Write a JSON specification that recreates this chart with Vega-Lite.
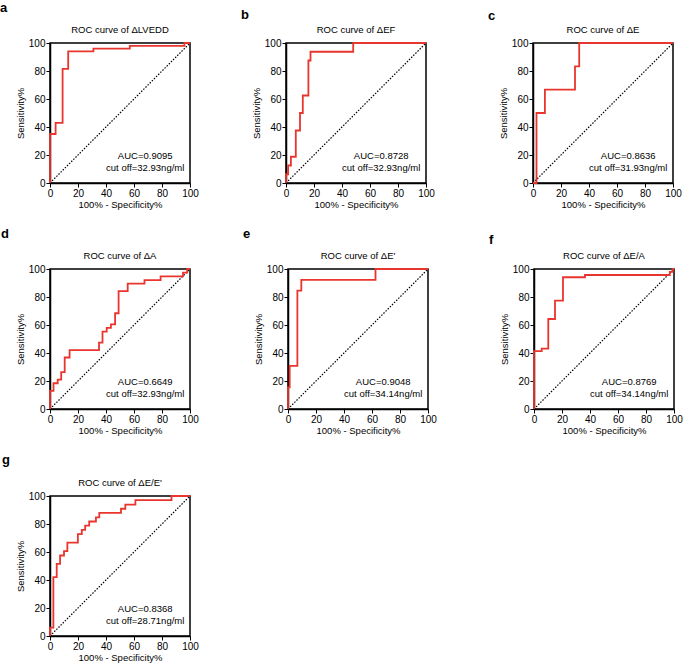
{
  "$schema": "https://vega.github.io/schema/vega-lite/v6.json",
  "padding": {"left": 0, "top": 1, "right": 0, "bottom": 0},
  "background": "white",
  "datasets": {
    "diag": [{"x": 0, "y": 0}, {"x": 100, "y": 100}],
    "ann": [
      {"p": "a", "auc": "AUC=0.9095", "cut": "cut off=32.93ng/ml"},
      {"p": "b", "auc": "AUC=0.8728", "cut": "cut off=32.93ng/ml"},
      {"p": "c", "auc": "AUC=0.8636", "cut": "cut off=31.93ng/ml"},
      {"p": "d", "auc": "AUC=0.6649", "cut": "cut off=32.93ng/ml"},
      {"p": "e", "auc": "AUC=0.9048", "cut": "cut off=34.14ng/ml"},
      {"p": "f", "auc": "AUC=0.8769", "cut": "cut off=34.14ng/ml"},
      {"p": "g", "auc": "AUC=0.8368", "cut": "cut off=28.71ng/ml"}
    ],
    "roc": [
      {"p":"a","i":0,"x":0,"y":0},{"p":"a","i":1,"x":0,"y":35},{"p":"a","i":2,"x":4,"y":35},{"p":"a","i":3,"x":4,"y":43},{"p":"a","i":4,"x":9,"y":43},{"p":"a","i":5,"x":9,"y":81.5},{"p":"a","i":6,"x":13,"y":81.5},{"p":"a","i":7,"x":13,"y":94},{"p":"a","i":8,"x":31,"y":94},{"p":"a","i":9,"x":31,"y":96},{"p":"a","i":10,"x":57,"y":96},{"p":"a","i":11,"x":57,"y":98},{"p":"a","i":12,"x":96,"y":98},{"p":"a","i":13,"x":96,"y":100},{"p":"a","i":14,"x":100,"y":100},

      {"p":"b","i":0,"x":0,"y":0},{"p":"b","i":1,"x":0,"y":6.25},{"p":"b","i":2,"x":1.5,"y":6.25},{"p":"b","i":3,"x":1.5,"y":12.5},{"p":"b","i":4,"x":3.5,"y":12.5},{"p":"b","i":5,"x":3.5,"y":18.75},{"p":"b","i":6,"x":7,"y":18.75},{"p":"b","i":7,"x":7,"y":37.5},{"p":"b","i":8,"x":10,"y":37.5},{"p":"b","i":9,"x":10,"y":50},{"p":"b","i":10,"x":12,"y":50},{"p":"b","i":11,"x":12,"y":62.5},{"p":"b","i":12,"x":16,"y":62.5},{"p":"b","i":13,"x":16,"y":87.5},{"p":"b","i":14,"x":17.5,"y":87.5},{"p":"b","i":15,"x":17.5,"y":93.75},{"p":"b","i":16,"x":48,"y":93.75},{"p":"b","i":17,"x":48,"y":100},{"p":"b","i":18,"x":100,"y":100},

      {"p":"c","i":0,"x":0,"y":0},{"p":"c","i":1,"x":2.5,"y":0},{"p":"c","i":2,"x":2.5,"y":50},{"p":"c","i":3,"x":8.5,"y":50},{"p":"c","i":4,"x":8.5,"y":66.7},{"p":"c","i":5,"x":30,"y":66.7},{"p":"c","i":6,"x":30,"y":83.3},{"p":"c","i":7,"x":33,"y":83.3},{"p":"c","i":8,"x":33,"y":100},{"p":"c","i":9,"x":100,"y":100},

      {"p":"d","i":0,"x":0,"y":0},{"p":"d","i":1,"x":0,"y":13},{"p":"d","i":2,"x":2.5,"y":13},{"p":"d","i":3,"x":2.5,"y":18.4},{"p":"d","i":4,"x":5.5,"y":18.4},{"p":"d","i":5,"x":5.5,"y":21},{"p":"d","i":6,"x":8,"y":21},{"p":"d","i":7,"x":8,"y":26.3},{"p":"d","i":8,"x":10.5,"y":26.3},{"p":"d","i":9,"x":10.5,"y":36.8},{"p":"d","i":10,"x":14,"y":36.8},{"p":"d","i":11,"x":14,"y":42.1},{"p":"d","i":12,"x":35,"y":42.1},{"p":"d","i":13,"x":35,"y":47.4},{"p":"d","i":14,"x":37.5,"y":47.4},{"p":"d","i":15,"x":37.5,"y":55.3},{"p":"d","i":16,"x":40.5,"y":55.3},{"p":"d","i":17,"x":40.5,"y":57.9},{"p":"d","i":18,"x":43.5,"y":57.9},{"p":"d","i":19,"x":43.5,"y":60.5},{"p":"d","i":20,"x":46.5,"y":60.5},{"p":"d","i":21,"x":46.5,"y":68.4},{"p":"d","i":22,"x":49,"y":68.4},{"p":"d","i":23,"x":49,"y":84.2},{"p":"d","i":24,"x":55.5,"y":84.2},{"p":"d","i":25,"x":55.5,"y":89.5},{"p":"d","i":26,"x":67.5,"y":89.5},{"p":"d","i":27,"x":67.5,"y":92.1},{"p":"d","i":28,"x":79,"y":92.1},{"p":"d","i":29,"x":79,"y":94.7},{"p":"d","i":30,"x":95,"y":94.7},{"p":"d","i":31,"x":95,"y":97.4},{"p":"d","i":32,"x":98,"y":97.4},{"p":"d","i":33,"x":98,"y":100},{"p":"d","i":34,"x":100,"y":100},

      {"p":"e","i":0,"x":0,"y":0},{"p":"e","i":1,"x":0,"y":15.4},{"p":"e","i":2,"x":1.2,"y":15.4},{"p":"e","i":3,"x":1.2,"y":30.8},{"p":"e","i":4,"x":6.7,"y":30.8},{"p":"e","i":5,"x":6.7,"y":84.6},{"p":"e","i":6,"x":9.5,"y":84.6},{"p":"e","i":7,"x":9.5,"y":92.3},{"p":"e","i":8,"x":62.5,"y":92.3},{"p":"e","i":9,"x":62.5,"y":100},{"p":"e","i":10,"x":100,"y":100},

      {"p":"f","i":0,"x":0,"y":0},{"p":"f","i":1,"x":0,"y":41.4},{"p":"f","i":2,"x":5.5,"y":41.4},{"p":"f","i":3,"x":5.5,"y":43.1},{"p":"f","i":4,"x":10.2,"y":43.1},{"p":"f","i":5,"x":10.2,"y":64.3},{"p":"f","i":6,"x":15,"y":64.3},{"p":"f","i":7,"x":15,"y":77.4},{"p":"f","i":8,"x":20.7,"y":77.4},{"p":"f","i":9,"x":20.7,"y":94.1},{"p":"f","i":10,"x":36.4,"y":94.1},{"p":"f","i":11,"x":36.4,"y":95.7},{"p":"f","i":12,"x":97,"y":95.7},{"p":"f","i":13,"x":97,"y":98},{"p":"f","i":14,"x":99,"y":98},{"p":"f","i":15,"x":99,"y":100},{"p":"f","i":16,"x":100,"y":100},

      {"p":"g","i":0,"x":0,"y":0},{"p":"g","i":1,"x":0,"y":6},{"p":"g","i":2,"x":2.4,"y":6},{"p":"g","i":3,"x":2.4,"y":42},{"p":"g","i":4,"x":4.8,"y":42},{"p":"g","i":5,"x":4.8,"y":51.5},{"p":"g","i":6,"x":7.2,"y":51.5},{"p":"g","i":7,"x":7.2,"y":57.5},{"p":"g","i":8,"x":10,"y":57.5},{"p":"g","i":9,"x":10,"y":60.6},{"p":"g","i":10,"x":12.4,"y":60.6},{"p":"g","i":11,"x":12.4,"y":66.7},{"p":"g","i":12,"x":19.9,"y":66.7},{"p":"g","i":13,"x":19.9,"y":72.7},{"p":"g","i":14,"x":22.7,"y":72.7},{"p":"g","i":15,"x":22.7,"y":75.8},{"p":"g","i":16,"x":25.1,"y":75.8},{"p":"g","i":17,"x":25.1,"y":78.8},{"p":"g","i":18,"x":28,"y":78.8},{"p":"g","i":19,"x":28,"y":81.8},{"p":"g","i":20,"x":32.8,"y":81.8},{"p":"g","i":21,"x":32.8,"y":84.8},{"p":"g","i":22,"x":35.2,"y":84.8},{"p":"g","i":23,"x":35.2,"y":87.9},{"p":"g","i":24,"x":50.7,"y":87.9},{"p":"g","i":25,"x":50.7,"y":90.9},{"p":"g","i":26,"x":53.8,"y":90.9},{"p":"g","i":27,"x":53.8,"y":93.9},{"p":"g","i":28,"x":61,"y":93.9},{"p":"g","i":29,"x":61,"y":97},{"p":"g","i":30,"x":86.8,"y":97},{"p":"g","i":31,"x":86.8,"y":100},{"p":"g","i":32,"x":100,"y":100}
    ]
  },
  "spacing": 17,
  "vconcat": [
    {"spacing": 41, "hconcat": [
      {"title": {"text": "a", "dx": -14.5, "dy": 0, "fontSize": 13, "fontWeight": "bold", "baseline": "alphabetic", "offset": -1}, "vconcat": [{"title": "ROC curve of ΔLVEDD", "width": 140, "height": 140,
        "layer": [
          {"data": {"name": "diag"}, "mark": {"type": "line", "color": "black", "strokeWidth": 1.2, "strokeDash": [1.5, 1.5]}, "encoding": {"x": {"field": "x", "type": "quantitative", "scale": {"domain": [0, 100]}, "axis": {"values": [0,20,40,60,80,100], "title": "100% - Specificity%", "titlePadding": 1, "labelOverlap": false}}, "y": {"field": "y", "type": "quantitative", "scale": {"domain": [0, 100]}, "axis": {"values": [0,20,40,60,80,100], "title": "Sensitivity%", "labelOverlap": false}}}},
          {"data": {"name": "roc"}, "transform": [{"filter": "datum.p === 'a'"}], "mark": {"type": "line", "color": "#e8352e", "strokeWidth": 1.8}, "encoding": {"x": {"field": "x", "type": "quantitative", "axis": {"values": [0,20,40,60,80,100], "title": "100% - Specificity%", "titlePadding": 1, "labelOverlap": false}}, "y": {"field": "y", "type": "quantitative", "axis": {"values": [0,20,40,60,80,100], "title": "Sensitivity%", "labelOverlap": false}}, "order": {"field": "i"}}},
          {"data": {"name": "ann"}, "transform": [{"filter": "datum.p === 'a'"}], "mark": {"type": "text", "fontSize": 9.5}, "encoding": {"x": {"datum": 68, "type": "quantitative", "axis": {"values": [0,20,40,60,80,100], "title": "100% - Specificity%", "titlePadding": 1, "labelOverlap": false}}, "y": {"datum": 19, "type": "quantitative", "axis": {"values": [0,20,40,60,80,100], "title": "Sensitivity%", "labelOverlap": false}}, "text": {"field": "auc"}}},
          {"data": {"name": "ann"}, "transform": [{"filter": "datum.p === 'a'"}], "mark": {"type": "text", "fontSize": 9.5}, "encoding": {"x": {"datum": 68, "type": "quantitative", "axis": {"values": [0,20,40,60,80,100], "title": "100% - Specificity%", "titlePadding": 1, "labelOverlap": false}}, "y": {"datum": 11, "type": "quantitative", "axis": {"values": [0,20,40,60,80,100], "title": "Sensitivity%", "labelOverlap": false}}, "text": {"field": "cut"}}}
        ]}]},
      {"spacing": 52, "hconcat": [
        {"title": {"text": "b", "dx": -9.5, "dy": 7, "fontSize": 13, "fontWeight": "bold", "baseline": "alphabetic", "offset": -1}, "vconcat": [{"title": "ROC curve of ΔEF", "width": 140, "height": 140,
          "layer": [
            {"data": {"name": "diag"}, "mark": {"type": "line", "color": "black", "strokeWidth": 1.2, "strokeDash": [1.5, 1.5]}, "encoding": {"x": {"field": "x", "type": "quantitative", "scale": {"domain": [0, 100]}, "axis": {"values": [0,20,40,60,80,100], "title": "100% - Specificity%", "titlePadding": 1, "labelOverlap": false}}, "y": {"field": "y", "type": "quantitative", "scale": {"domain": [0, 100]}, "axis": {"values": [0,20,40,60,80,100], "title": "Sensitivity%", "labelOverlap": false}}}},
            {"data": {"name": "roc"}, "transform": [{"filter": "datum.p === 'b'"}], "mark": {"type": "line", "color": "#e8352e", "strokeWidth": 1.8}, "encoding": {"x": {"field": "x", "type": "quantitative", "axis": {"values": [0,20,40,60,80,100], "title": "100% - Specificity%", "titlePadding": 1, "labelOverlap": false}}, "y": {"field": "y", "type": "quantitative", "axis": {"values": [0,20,40,60,80,100], "title": "Sensitivity%", "labelOverlap": false}}, "order": {"field": "i"}}},
            {"data": {"name": "ann"}, "transform": [{"filter": "datum.p === 'b'"}], "mark": {"type": "text", "fontSize": 9.5}, "encoding": {"x": {"datum": 68, "type": "quantitative", "axis": {"values": [0,20,40,60,80,100], "title": "100% - Specificity%", "titlePadding": 1, "labelOverlap": false}}, "y": {"datum": 19, "type": "quantitative", "axis": {"values": [0,20,40,60,80,100], "title": "Sensitivity%", "labelOverlap": false}}, "text": {"field": "auc"}}},
            {"data": {"name": "ann"}, "transform": [{"filter": "datum.p === 'b'"}], "mark": {"type": "text", "fontSize": 9.5}, "encoding": {"x": {"datum": 68, "type": "quantitative", "axis": {"values": [0,20,40,60,80,100], "title": "100% - Specificity%", "titlePadding": 1, "labelOverlap": false}}, "y": {"datum": 11, "type": "quantitative", "axis": {"values": [0,20,40,60,80,100], "title": "Sensitivity%", "labelOverlap": false}}, "text": {"field": "cut"}}}
          ]}]},
        {"title": {"text": "c", "dx": -9.5, "dy": 8, "fontSize": 13, "fontWeight": "bold", "baseline": "alphabetic", "offset": -1}, "vconcat": [{"title": "ROC curve of ΔE", "width": 140, "height": 140,
          "layer": [
            {"data": {"name": "diag"}, "mark": {"type": "line", "color": "black", "strokeWidth": 1.2, "strokeDash": [1.5, 1.5]}, "encoding": {"x": {"field": "x", "type": "quantitative", "scale": {"domain": [0, 100]}, "axis": {"values": [0,20,40,60,80,100], "title": "100% - Specificity%", "titlePadding": 1, "labelOverlap": false}}, "y": {"field": "y", "type": "quantitative", "scale": {"domain": [0, 100]}, "axis": {"values": [0,20,40,60,80,100], "title": "Sensitivity%", "labelOverlap": false}}}},
            {"data": {"name": "roc"}, "transform": [{"filter": "datum.p === 'c'"}], "mark": {"type": "line", "color": "#e8352e", "strokeWidth": 1.8}, "encoding": {"x": {"field": "x", "type": "quantitative", "axis": {"values": [0,20,40,60,80,100], "title": "100% - Specificity%", "titlePadding": 1, "labelOverlap": false}}, "y": {"field": "y", "type": "quantitative", "axis": {"values": [0,20,40,60,80,100], "title": "Sensitivity%", "labelOverlap": false}}, "order": {"field": "i"}}},
            {"data": {"name": "ann"}, "transform": [{"filter": "datum.p === 'c'"}], "mark": {"type": "text", "fontSize": 9.5}, "encoding": {"x": {"datum": 68, "type": "quantitative", "axis": {"values": [0,20,40,60,80,100], "title": "100% - Specificity%", "titlePadding": 1, "labelOverlap": false}}, "y": {"datum": 19, "type": "quantitative", "axis": {"values": [0,20,40,60,80,100], "title": "Sensitivity%", "labelOverlap": false}}, "text": {"field": "auc"}}},
            {"data": {"name": "ann"}, "transform": [{"filter": "datum.p === 'c'"}], "mark": {"type": "text", "fontSize": 9.5}, "encoding": {"x": {"datum": 68, "type": "quantitative", "axis": {"values": [0,20,40,60,80,100], "title": "100% - Specificity%", "titlePadding": 1, "labelOverlap": false}}, "y": {"datum": 11, "type": "quantitative", "axis": {"values": [0,20,40,60,80,100], "title": "Sensitivity%", "labelOverlap": false}}, "text": {"field": "cut"}}}
          ]}]}
      ]}
    ]},
    {"spacing": 17, "vconcat": [
      {"spacing": 43, "hconcat": [
        {"title": {"text": "d", "dx": -13.5, "dy": 0, "fontSize": 13, "fontWeight": "bold", "baseline": "alphabetic", "offset": -1}, "vconcat": [{"title": "ROC curve of ΔA", "width": 140, "height": 140,
          "layer": [
            {"data": {"name": "diag"}, "mark": {"type": "line", "color": "black", "strokeWidth": 1.2, "strokeDash": [1.5, 1.5]}, "encoding": {"x": {"field": "x", "type": "quantitative", "scale": {"domain": [0, 100]}, "axis": {"values": [0,20,40,60,80,100], "title": "100% - Specificity%", "titlePadding": 1, "labelOverlap": false}}, "y": {"field": "y", "type": "quantitative", "scale": {"domain": [0, 100]}, "axis": {"values": [0,20,40,60,80,100], "title": "Sensitivity%", "labelOverlap": false}}}},
            {"data": {"name": "roc"}, "transform": [{"filter": "datum.p === 'd'"}], "mark": {"type": "line", "color": "#e8352e", "strokeWidth": 1.8}, "encoding": {"x": {"field": "x", "type": "quantitative", "axis": {"values": [0,20,40,60,80,100], "title": "100% - Specificity%", "titlePadding": 1, "labelOverlap": false}}, "y": {"field": "y", "type": "quantitative", "axis": {"values": [0,20,40,60,80,100], "title": "Sensitivity%", "labelOverlap": false}}, "order": {"field": "i"}}},
            {"data": {"name": "ann"}, "transform": [{"filter": "datum.p === 'd'"}], "mark": {"type": "text", "fontSize": 9.5}, "encoding": {"x": {"datum": 68, "type": "quantitative", "axis": {"values": [0,20,40,60,80,100], "title": "100% - Specificity%", "titlePadding": 1, "labelOverlap": false}}, "y": {"datum": 19, "type": "quantitative", "axis": {"values": [0,20,40,60,80,100], "title": "Sensitivity%", "labelOverlap": false}}, "text": {"field": "auc"}}},
            {"data": {"name": "ann"}, "transform": [{"filter": "datum.p === 'd'"}], "mark": {"type": "text", "fontSize": 9.5}, "encoding": {"x": {"datum": 68, "type": "quantitative", "axis": {"values": [0,20,40,60,80,100], "title": "100% - Specificity%", "titlePadding": 1, "labelOverlap": false}}, "y": {"datum": 11, "type": "quantitative", "axis": {"values": [0,20,40,60,80,100], "title": "Sensitivity%", "labelOverlap": false}}, "text": {"field": "cut"}}}
          ]}]},
        {"spacing": 51, "hconcat": [
          {"title": {"text": "e", "dx": -9.5, "dy": 0, "fontSize": 13, "fontWeight": "bold", "baseline": "alphabetic", "offset": -1}, "vconcat": [{"title": "ROC curve of ΔE'", "width": 140, "height": 140,
            "layer": [
              {"data": {"name": "diag"}, "mark": {"type": "line", "color": "black", "strokeWidth": 1.2, "strokeDash": [1.5, 1.5]}, "encoding": {"x": {"field": "x", "type": "quantitative", "scale": {"domain": [0, 100]}, "axis": {"values": [0,20,40,60,80,100], "title": "100% - Specificity%", "titlePadding": 1, "labelOverlap": false}}, "y": {"field": "y", "type": "quantitative", "scale": {"domain": [0, 100]}, "axis": {"values": [0,20,40,60,80,100], "title": "Sensitivity%", "labelOverlap": false}}}},
              {"data": {"name": "roc"}, "transform": [{"filter": "datum.p === 'e'"}], "mark": {"type": "line", "color": "#e8352e", "strokeWidth": 1.8}, "encoding": {"x": {"field": "x", "type": "quantitative", "axis": {"values": [0,20,40,60,80,100], "title": "100% - Specificity%", "titlePadding": 1, "labelOverlap": false}}, "y": {"field": "y", "type": "quantitative", "axis": {"values": [0,20,40,60,80,100], "title": "Sensitivity%", "labelOverlap": false}}, "order": {"field": "i"}}},
              {"data": {"name": "ann"}, "transform": [{"filter": "datum.p === 'e'"}], "mark": {"type": "text", "fontSize": 9.5}, "encoding": {"x": {"datum": 68, "type": "quantitative", "axis": {"values": [0,20,40,60,80,100], "title": "100% - Specificity%", "titlePadding": 1, "labelOverlap": false}}, "y": {"datum": 19, "type": "quantitative", "axis": {"values": [0,20,40,60,80,100], "title": "Sensitivity%", "labelOverlap": false}}, "text": {"field": "auc"}}},
              {"data": {"name": "ann"}, "transform": [{"filter": "datum.p === 'e'"}], "mark": {"type": "text", "fontSize": 9.5}, "encoding": {"x": {"datum": 68, "type": "quantitative", "axis": {"values": [0,20,40,60,80,100], "title": "100% - Specificity%", "titlePadding": 1, "labelOverlap": false}}, "y": {"datum": 11, "type": "quantitative", "axis": {"values": [0,20,40,60,80,100], "title": "Sensitivity%", "labelOverlap": false}}, "text": {"field": "cut"}}}
            ]}]},
          {"title": {"text": "f", "dx": -9.5, "dy": 6, "fontSize": 13, "fontWeight": "bold", "baseline": "alphabetic", "offset": -1}, "vconcat": [{"title": "ROC curve of ΔE/A", "width": 140, "height": 140,
            "layer": [
              {"data": {"name": "diag"}, "mark": {"type": "line", "color": "black", "strokeWidth": 1.2, "strokeDash": [1.5, 1.5]}, "encoding": {"x": {"field": "x", "type": "quantitative", "scale": {"domain": [0, 100]}, "axis": {"values": [0,20,40,60,80,100], "title": "100% - Specificity%", "titlePadding": 1, "labelOverlap": false}}, "y": {"field": "y", "type": "quantitative", "scale": {"domain": [0, 100]}, "axis": {"values": [0,20,40,60,80,100], "title": "Sensitivity%", "labelOverlap": false}}}},
              {"data": {"name": "roc"}, "transform": [{"filter": "datum.p === 'f'"}], "mark": {"type": "line", "color": "#e8352e", "strokeWidth": 1.8}, "encoding": {"x": {"field": "x", "type": "quantitative", "axis": {"values": [0,20,40,60,80,100], "title": "100% - Specificity%", "titlePadding": 1, "labelOverlap": false}}, "y": {"field": "y", "type": "quantitative", "axis": {"values": [0,20,40,60,80,100], "title": "Sensitivity%", "labelOverlap": false}}, "order": {"field": "i"}}},
              {"data": {"name": "ann"}, "transform": [{"filter": "datum.p === 'f'"}], "mark": {"type": "text", "fontSize": 9.5}, "encoding": {"x": {"datum": 68, "type": "quantitative", "axis": {"values": [0,20,40,60,80,100], "title": "100% - Specificity%", "titlePadding": 1, "labelOverlap": false}}, "y": {"datum": 19, "type": "quantitative", "axis": {"values": [0,20,40,60,80,100], "title": "Sensitivity%", "labelOverlap": false}}, "text": {"field": "auc"}}},
              {"data": {"name": "ann"}, "transform": [{"filter": "datum.p === 'f'"}], "mark": {"type": "text", "fontSize": 9.5}, "encoding": {"x": {"datum": 68, "type": "quantitative", "axis": {"values": [0,20,40,60,80,100], "title": "100% - Specificity%", "titlePadding": 1, "labelOverlap": false}}, "y": {"datum": 11, "type": "quantitative", "axis": {"values": [0,20,40,60,80,100], "title": "Sensitivity%", "labelOverlap": false}}, "text": {"field": "cut"}}}
            ]}]}
        ]}
      ]},
      {"title": {"text": "g", "dx": -12.5, "dy": -1, "fontSize": 13, "fontWeight": "bold", "baseline": "alphabetic", "offset": -1}, "vconcat": [{"title": "ROC curve of ΔE/E'", "width": 140, "height": 140,
        "layer": [
          {"data": {"name": "diag"}, "mark": {"type": "line", "color": "black", "strokeWidth": 1.2, "strokeDash": [1.5, 1.5]}, "encoding": {"x": {"field": "x", "type": "quantitative", "scale": {"domain": [0, 100]}, "axis": {"values": [0,20,40,60,80,100], "title": "100% - Specificity%", "titlePadding": 1, "labelOverlap": false}}, "y": {"field": "y", "type": "quantitative", "scale": {"domain": [0, 100]}, "axis": {"values": [0,20,40,60,80,100], "title": "Sensitivity%", "labelOverlap": false}}}},
          {"data": {"name": "roc"}, "transform": [{"filter": "datum.p === 'g'"}], "mark": {"type": "line", "color": "#e8352e", "strokeWidth": 1.8}, "encoding": {"x": {"field": "x", "type": "quantitative", "axis": {"values": [0,20,40,60,80,100], "title": "100% - Specificity%", "titlePadding": 1, "labelOverlap": false}}, "y": {"field": "y", "type": "quantitative", "axis": {"values": [0,20,40,60,80,100], "title": "Sensitivity%", "labelOverlap": false}}, "order": {"field": "i"}}},
          {"data": {"name": "ann"}, "transform": [{"filter": "datum.p === 'g'"}], "mark": {"type": "text", "fontSize": 9.5}, "encoding": {"x": {"datum": 68, "type": "quantitative", "axis": {"values": [0,20,40,60,80,100], "title": "100% - Specificity%", "titlePadding": 1, "labelOverlap": false}}, "y": {"datum": 19, "type": "quantitative", "axis": {"values": [0,20,40,60,80,100], "title": "Sensitivity%", "labelOverlap": false}}, "text": {"field": "auc"}}},
          {"data": {"name": "ann"}, "transform": [{"filter": "datum.p === 'g'"}], "mark": {"type": "text", "fontSize": 9.5}, "encoding": {"x": {"datum": 68, "type": "quantitative", "axis": {"values": [0,20,40,60,80,100], "title": "100% - Specificity%", "titlePadding": 1, "labelOverlap": false}}, "y": {"datum": 11, "type": "quantitative", "axis": {"values": [0,20,40,60,80,100], "title": "Sensitivity%", "labelOverlap": false}}, "text": {"field": "cut"}}}
        ]}]}
    ]}
  ],
  "config": {
    "font": "Liberation Sans",
    "view": {"stroke": "black", "strokeWidth": 1.5},
    "text": {"font": "Liberation Sans", "color": "black"},
    "axis": {"grid": false, "domainColor": "black", "domainWidth": 1.5, "tickColor": "black", "tickWidth": 1, "tickSize": 4, "labelFont": "Liberation Sans", "labelFontSize": 10, "labelColor": "black", "labelFlush": false, "labelOverlap": false, "labelPadding": 1, "titleFont": "Liberation Sans", "titleFontSize": 9.5, "titleFontWeight": "normal", "titleColor": "black", "titlePadding": 3},
    "title": {"font": "Liberation Sans", "fontSize": 9.5, "fontWeight": "normal", "color": "black", "offset": 4},
    "concat": {"spacing": 10}
  }
}
